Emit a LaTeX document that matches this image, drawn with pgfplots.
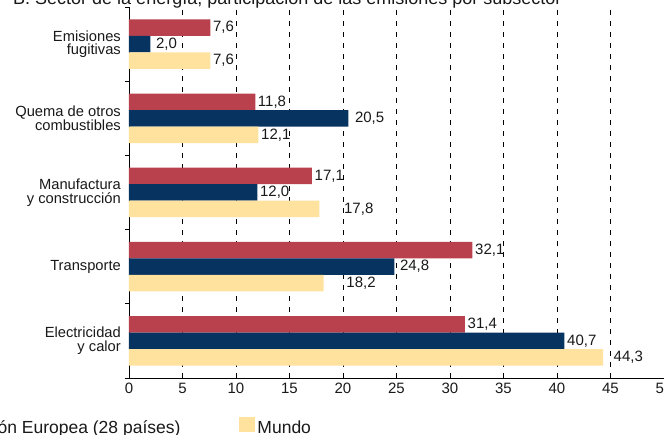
\documentclass[border=0pt]{standalone}
\usepackage{pgfplots}
\pgfplotsset{compat=1.18}
\usepackage{pgfplotstable}
\usepackage{fontspec}
\setmainfont{Liberation Sans}
\definecolor{cred}{RGB}{185,64,77}
\definecolor{cblue}{RGB}{7,51,96}
\definecolor{cyel}{RGB}{255,226,158}
\definecolor{ctext}{RGB}{25,25,25}

\pgfplotstableread{
y val dx
0 31.4 0
1 32.1 0
2 17.1 0
3 11.8 0
4 7.6 0
}\alc
\pgfplotstableread{
y val dx
0 40.7 0
1 24.8 3
2 12.0 0
3 20.5 4
4 2.0 3
}\ue
\pgfplotstableread{
y val dx
0 44.3 8
1 18.2 20
2 17.8 22
3 12.1 0
4 7.6 0
}\mundo

\begin{document}
\begin{tikzpicture}[x=1pt,y=1pt]
\useasboundingbox (0,0) rectangle (664,435);
\clip (0,0) rectangle (664,435);
\node[anchor=base west, font=\fontsize{18}{20}\selectfont, text=ctext, inner sep=0pt] at (13,430) {B. Sector de la energía, participación de las emisiones por subsector};
\begin{axis}[
  at={(129pt,57pt)}, anchor=south west,
  scale only axis, width=535pt, height=371pt,
  xmin=0, xmax=50, ymin=-0.5, ymax=4.5,
  axis x line*=bottom, axis y line*=left,
  x axis line style={-, line width=0.8pt, black},
  y axis line style={-, line width=0.8pt, black},
  xtick={0,5,...,50},
  ytick={0,1,2,3,4},
  yticklabels={{Electricidad\\y calor},{Transporte},{Manufactura\\y construcción},{Quema de otros\\combustibles},{Emisiones\\fugitivas}},
  minor ytick={-0.5,0.5,1.5,2.5,3.5,4.5},
  major tick length=0pt, minor tick length=4pt, tick align=outside,
  minor tick style={line width=0.8pt, black},
  xmajorgrids,
  major grid style={black, line width=0.7pt, dash pattern=on 5pt off 6pt},
  /pgf/number format/assume math mode=true,
  xticklabel style={font=\fontsize{15}{18}\selectfont, text=ctext, inner sep=0pt, yshift=-5pt},
  yticklabel style={font=\fontsize{14.7}{13.5}\selectfont, text=ctext, align=right, inner sep=0pt, xshift=-8pt},
  point meta=x,
  visualization depends on={\thisrow{dx} \as \dx},
  nodes near coords={\pgfmathprintnumber[fixed,fixed zerofill,precision=1,use comma,assume math mode=true]{\pgfplotspointmeta}},
  nodes near coords align={horizontal},
  every node near coord/.append style={anchor=west, inner sep=0pt, xshift=2.5pt+\dx pt, font=\fontsize{15}{18}\selectfont, text=ctext},
  legend columns=3,
  legend image code/.code={\fill[#1] (0pt,-4pt) rectangle (16pt,11.5pt);},
  legend style={draw=none, fill=none, inner sep=0pt, outer sep=0pt,
    at={(axis description cs:0,0)}, anchor=south east, xshift=182pt, yshift=-57.5pt,
    font=\fontsize{17.5}{20}\selectfont, text=ctext,
    nodes={inner sep=0pt},
    /tikz/every odd column/.append style={column sep=2pt},
    /tikz/every even column/.append style={column sep=59pt}},
  legend cell align=left,
]
\addplot[xbar, bar width=16.5pt, bar shift=16.5pt, fill=cred, draw=none,
  every node near coord/.append style={yshift=16.5pt}] table[x=val,y=y]{\alc};
\addlegendentry{América Latina y el Caribe}
\addplot[xbar, bar width=16.5pt, bar shift=0pt, fill=cblue, draw=none] table[x=val,y=y]{\ue};
\addlegendentry{Unión Europea (28 países)}
\addplot[xbar, bar width=16.5pt, bar shift=-16.5pt, fill=cyel, draw=none,
  every node near coord/.append style={yshift=-16.5pt}] table[x=val,y=y]{\mundo};
\addlegendentry{Mundo}
\end{axis}
\end{tikzpicture}
\end{document}
